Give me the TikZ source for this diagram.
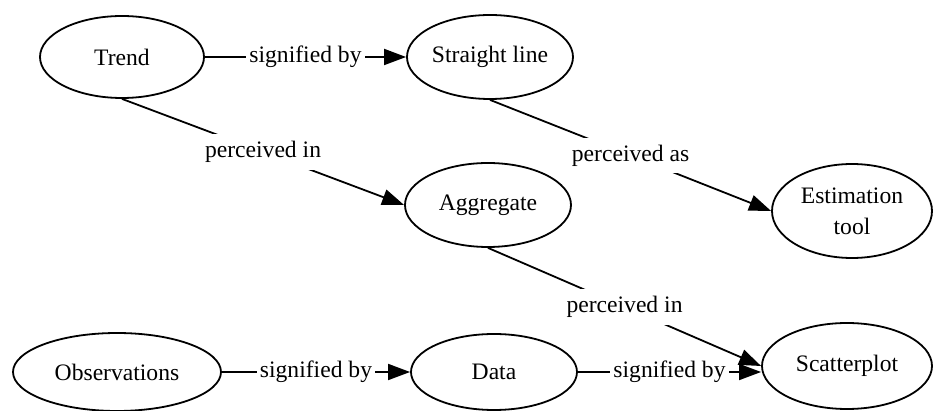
\documentclass[tikz,border=0pt]{standalone}
\usepackage{fontspec}
\setmainfont{Liberation Serif}
\usetikzlibrary{shapes.geometric,arrows.meta}
\begin{document}
\begin{tikzpicture}[x=0.5pt,y=-0.5pt,
  concept/.style={ellipse,draw,line width=0.9pt,inner sep=0pt,align=center,
    font=\fontsize{11.8}{15.5}\selectfont},
  link/.style={line width=0.9pt,-{Triangle[length=11pt,width=8pt]}},
  rel/.style={fill=white,inner xsep=1.5pt,inner ysep=3.5pt,
    font=\fontsize{11.8}{14}\selectfont},
  hrel/.style={rel,inner ysep=1pt}]
\useasboundingbox (0,0) rectangle (933,411);
\node[concept,minimum width=82pt,minimum height=41pt] (trend) at (122,57) {Trend};
\node[concept,minimum width=83pt,minimum height=42pt] (straight) at (490,57) {Straight line};
\node[concept,minimum width=83pt,minimum height=42pt] (aggregate) at (488,205) {Aggregate};
\node[concept,minimum width=80pt,minimum height=47pt] (estimation) at (852,211) {Estimation\\tool};
\node[concept,minimum width=104pt,minimum height=39pt] (observations) at (117,372) {Observations};
\node[concept,minimum width=83pt,minimum height=38pt] (data) at (494,372) {Data};
\node[concept,minimum width=85pt,minimum height=43pt] (scatter) at (847,366) {Scatterplot};
\draw[link] (trend) -- node[hrel]{signified by} (straight);
\draw[link] (trend.south) -- node[rel]{perceived in} (aggregate.west);
\draw[link] (straight.south) -- node[rel]{perceived as} (estimation.west);
\draw[link] (aggregate.south) -- node[rel]{perceived in} (scatter.west);
\draw[link] (observations) -- node[hrel]{signified by} (data);
\draw[link] (data.east) -- node[hrel]{signified by} (data.east -| scatter.west);
\end{tikzpicture}
\end{document}
